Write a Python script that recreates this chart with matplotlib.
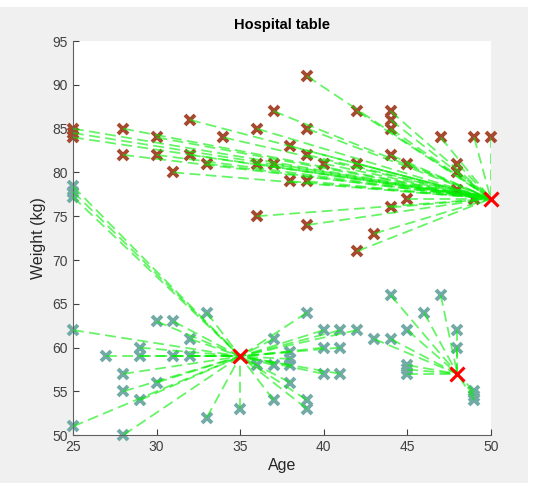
import matplotlib
matplotlib.use("Agg")
import matplotlib.pyplot as plt
from matplotlib.patches import Rectangle

plt.rcParams['font.family'] = ['Liberation Sans', 'DejaVu Sans']

# === data: age / weight per cluster ===
heavy_age = [25, 25, 25, 28, 28, 30, 30, 31, 32, 32, 33, 34, 36, 36, 36, 37, 37,
             38, 38, 39, 39, 39, 39, 39, 40, 42, 42, 42, 43, 44, 44, 44, 44, 44,
             45, 45, 47, 48, 48, 48, 49, 49, 50]
heavy_wt = [85, 84.5, 84, 85, 82, 84, 82, 80, 86, 82, 81, 84, 85, 81, 75, 87, 81,
            83, 79, 91, 85, 82, 79, 74, 81, 87, 81, 71, 73, 87, 86, 85, 82, 76,
            81, 77, 84, 81, 80, 78, 84, 77, 84]

light_a_age = [25, 25, 25, 25, 25, 27, 28, 28, 28, 29, 29, 29, 30, 30, 31, 31,
               32, 32, 33, 33, 35, 36, 37, 37, 37, 38, 38, 38, 38, 39, 39, 39,
               40, 40, 40, 41, 41, 41, 42]
light_a_wt = [78.4, 77.8, 77.2, 62, 51, 59, 57, 55, 50, 60, 59, 54, 63, 56, 63, 59,
              61, 59, 64, 52, 53, 58, 61, 58, 54, 59.5, 58.7, 58, 56, 64, 54, 53,
              62, 60, 57, 62, 60, 57, 62]

light_b_age = [43, 44, 44, 45, 45, 45, 45, 46, 47, 48, 48, 49, 49, 49]
light_b_wt = [61, 61, 66, 62, 58, 57.5, 57, 64, 66, 62, 60, 55, 54.5, 54]

centers = {"heavy": (50, 77), "light_a": (35, 59), "light_b": (48, 57)}

groups = [
    (heavy_age, heavy_wt, centers["heavy"], "#a5492f"),
    (light_a_age, light_a_wt, centers["light_a"], "#72aba6"),
    (light_b_age, light_b_wt, centers["light_b"], "#72aba6"),
]

fig = plt.figure(figsize=(5.37, 4.83), dpi=100, facecolor="#f0f0f0")
ax = fig.add_axes([0.136, 0.099, 0.778, 0.816])
ax.set_facecolor("white")

for ages, wts, (cx, cy), col in groups:
    ax.plot(ages, wts, linestyle="none", marker="x", markersize=6.5,
            markeredgewidth=2.8, color=col, zorder=2, clip_on=False)
    for a, w in zip(ages, wts):
        ax.plot([a, cx], [w, cy], color="#00ee00", alpha=0.6, lw=1.3,
                linestyle=(0, (6, 3)), zorder=3)

for cx, cy in centers.values():
    ax.plot(cx, cy, linestyle="none", marker="x", markersize=10,
            markeredgewidth=2.2, color="red", zorder=4, clip_on=False)

ax.set_xlim(25, 50)
ax.set_ylim(50, 95)
ax.set_xticks(range(25, 51, 5))
ax.set_yticks(range(50, 96, 5))
ax.tick_params(direction="in", length=4, labelsize=10, colors="#404040",
               top=False, right=False)
for side in ["top", "right"]:
    ax.spines[side].set_visible(False)
for side in ["left", "bottom"]:
    ax.spines[side].set_color("#606060")
    ax.spines[side].set_linewidth(0.8)

ax.set_xlabel("Age", fontsize=11.5, color="#262626", labelpad=3)
ax.set_ylabel("Weight (kg)", fontsize=11.5, color="#262626", labelpad=5)
ax.set_title("Hospital table", fontsize=10.5, fontweight="bold", pad=9)

# white border of the screenshot
fig.add_artist(Rectangle((0, 1 - 7 / 483), 1, 7 / 483, transform=fig.transFigure,
                         facecolor="white", edgecolor="none"))
fig.add_artist(Rectangle((528 / 537, 0), 9 / 537, 1, transform=fig.transFigure,
                         facecolor="white", edgecolor="none"))

fig.savefig("out.png", dpi=100, facecolor=fig.get_facecolor())
